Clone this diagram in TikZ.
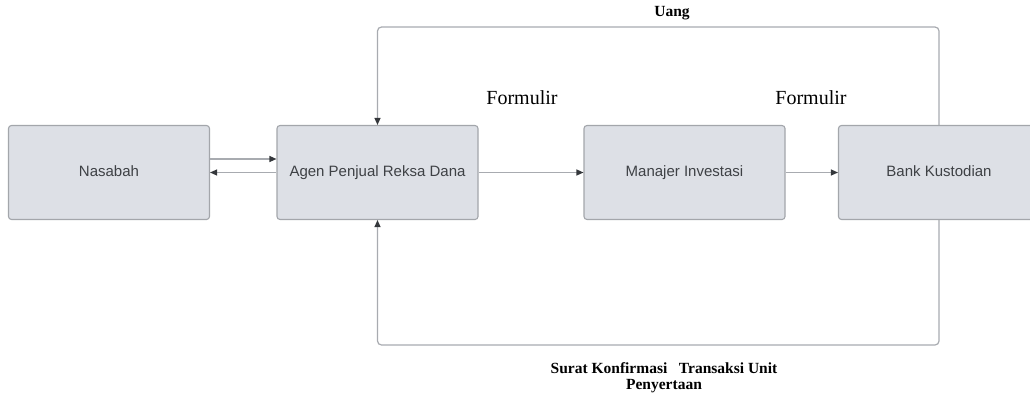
\documentclass[tikz,border=0pt]{standalone}
\usepackage{fontspec}
\setmainfont{Liberation Serif}
\newfontfamily\boxfont{Liberation Sans}
\usetikzlibrary{arrows.meta}
\definecolor{boxfill}{HTML}{DDE0E6}
\definecolor{boxline}{HTML}{A3A6AB}
\definecolor{flowline}{HTML}{A8ABB0}
\definecolor{tipcol}{HTML}{34373B}
\definecolor{boxtext}{HTML}{3E4145}

\begin{document}
\begin{tikzpicture}[x=1pt, y=-1pt,
    party/.style={draw=boxline, fill=boxfill, line width=1.1pt, rounded corners=3pt,
      minimum width=201pt, minimum height=94pt, inner sep=0pt,
      text height=11pt, text depth=3pt,
      font=\boxfont\fontsize{15}{17}\selectfont, text=boxtext},
    flow/.style={draw=flowline, line width=1.2pt, rounded corners=4pt,
      -{Triangle[length=7pt, width=6pt, fill=tipcol, color=tipcol]}},
    plain label/.style={font=\fontsize{20}{22}\selectfont, inner sep=0pt},
    bold label/.style={font=\bfseries\fontsize{15.5}{16}\selectfont, inner sep=0pt, align=center}]
      \useasboundingbox (0,0) rectangle (1030,400);
      \node [party] (nasabah) at (109,172.5) {Nasabah};
      \node [party] (agen) at (377.5,172.5) {Agen Penjual Reksa Dana};
      \node [party] (manajer) at (684.5,172.5) {Manajer Investasi};
      \node [party] (bank) at (939,172.5) {Bank Kustodian};
      % nasabah <-> agen
      \draw [flow] ([yshift=13.5pt]nasabah.east) -- ([yshift=13.5pt]agen.west);
      \draw [flow] (agen.west) -- (nasabah.east);
      \draw [flow] (agen) -- (manajer);
      \draw [flow] (manajer) -- (bank);
      % loops over and under
      \draw [flow] (bank.north) -- (939,27) -| (agen.north);
      \draw [flow] (bank.south) -- (939,345) -| (agen.south);
      \node [plain label] (formulir1) at (522,98) {Formulir};
      \node [plain label] (formulir2) at (811,98) {Formulir};
      \node [bold label] (uang) at (672,13) {Uang};
      \node [bold label] (surat) at (664,378) {Surat Konfirmasi\ \ \ Transaksi Unit\\Penyertaan};
    \end{tikzpicture}
\end{document}
